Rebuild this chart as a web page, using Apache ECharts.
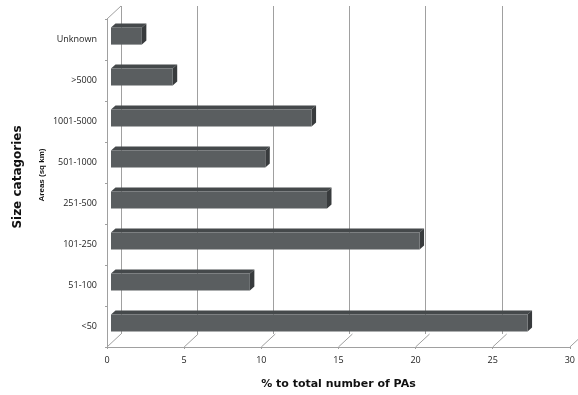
<!DOCTYPE html>
<html>
<head>
<meta charset="utf-8">
<script src="https://cdn.jsdelivr.net/npm/echarts@6/dist/echarts.min.js"></script>
<style>
  html, body { margin: 0; padding: 0; background: #fff; }
  #chart { width: 578px; height: 395px; }
</style>
</head>
<body>
<div id="chart"></div>
<script>
// Size classes of protected areas (bottom to top) and their share of all PAs
const categories = ['<50', '51-100', '101-250', '251-500', '501-1000', '1001-5000', '>5000', 'Unknown'];
const shares = [27, 9, 20, 14, 10, 13, 4, 2];
const xTicks = [0, 5, 10, 15, 20, 25, 30];

// pseudo-3D depth of the plot box and of each bar
const WALL_DX = 14, WALL_DY = -13;
const BAR_SHIFT_X = 4, BAR_SHIFT_Y = -3.5;
const BAR_DX = 4.5, BAR_DY = -4;

const gridColor = '#a0a0a0';
const labelFont = 'Open Sans';
const titleFont = 'DejaVu Sans';

const chart = echarts.init(document.getElementById('chart'), null, { renderer: 'canvas' });

const option = {
  animation: false,
  backgroundColor: '#ffffff',
  grid: [
    { left: 107, top: 19, width: 464, height: 328 },
    { left: 107 + WALL_DX, top: 19 + WALL_DY, width: 464, height: 328 }
  ],
  xAxis: [
    {
      gridIndex: 0, type: 'value', min: 0, max: 30, interval: 5,
      axisLine: { show: true, lineStyle: { color: gridColor, width: 1 } },
      axisTick: { show: true, length: 2, lineStyle: { color: gridColor } },
      splitLine: { show: false },
      axisLabel: { margin: 9, fontSize: 9, color: '#222', fontFamily: labelFont },
      name: '% to total number of PAs',
      nameLocation: 'middle', nameGap: 32,
      nameTextStyle: { fontFamily: titleFont, fontWeight: 'bold', fontSize: 11, color: '#111' }
    },
    {
      gridIndex: 1, type: 'value', min: 0, max: 30, interval: 5,
      axisLine: { show: false }, axisTick: { show: false }, axisLabel: { show: false },
      splitLine: { show: true, lineStyle: { color: gridColor, width: 1 } }
    }
  ],
  yAxis: [
    {
      gridIndex: 0, type: 'category', data: categories,
      axisLine: { show: true, lineStyle: { color: gridColor, width: 1 } },
      axisTick: { show: true, length: 2, lineStyle: { color: gridColor } },
      axisLabel: { margin: 10, fontSize: 9, color: '#222', fontFamily: labelFont },
      splitLine: { show: false }
    },
    { gridIndex: 1, type: 'value', show: false, splitLine: { show: false } }
  ],
  graphic: [
    {
      type: 'text', x: 18, y: 177, rotation: Math.PI / 2,
      style: { text: 'Size catagories', font: 'bold 12px "DejaVu Sans"', fill: '#111', align: 'center', verticalAlign: 'middle' }
    },
    {
      type: 'text', x: 42, y: 175, rotation: Math.PI / 2,
      style: { text: 'Areas (sq km)', font: 'bold 8px "Liberation Sans"', fill: '#111', align: 'center', verticalAlign: 'middle' }
    }
  ],
  series: [
    {
      // floor edges running from each front tick back to the wall
      type: 'custom', xAxisIndex: 0, yAxisIndex: 0, silent: true, z: 1,
      data: xTicks.map(v => [v, 0]),
      renderItem: function (params, api) {
        const p = api.coord([api.value(0), 0]);
        const bottom = params.coordSys.y + params.coordSys.height;
        return {
          type: 'line',
          shape: { x1: p[0], y1: bottom, x2: p[0] + WALL_DX, y2: bottom + WALL_DY },
          style: { stroke: gridColor, lineWidth: 1 }
        };
      }
    },
    {
      // top edge of the left side wall
      type: 'custom', xAxisIndex: 0, yAxisIndex: 0, silent: true, z: 1,
      data: [[0, 0]],
      renderItem: function (params, api) {
        const cs = params.coordSys;
        return {
          type: 'line',
          shape: { x1: cs.x, y1: cs.y, x2: cs.x + WALL_DX, y2: cs.y + WALL_DY },
          style: { stroke: gridColor, lineWidth: 1 }
        };
      }
    },
    {
      // 3D bars: front face, top face and end face
      type: 'custom', xAxisIndex: 0, yAxisIndex: 0, z: 3,
      data: shares.map((v, i) => [v, i]),
      renderItem: function (params, api) {
        const val = api.value(0), cat = api.value(1);
        const start = api.coord([0, cat]);
        const end = api.coord([val, cat]);
        const band = api.size([0, 1])[1];
        const h = band * 0.42;
        const x0 = start[0] + BAR_SHIFT_X, x1 = end[0] + BAR_SHIFT_X;
        const yc = start[1] + BAR_SHIFT_Y;
        const yTop = yc - h / 2, yBot = yc + h / 2;
        return {
          type: 'group',
          children: [
            {
              type: 'polygon',
              shape: { points: [[x0, yTop], [x1, yTop], [x1 + BAR_DX, yTop + BAR_DY], [x0 + BAR_DX, yTop + BAR_DY]] },
              style: { fill: '#45494b' }
            },
            {
              type: 'polygon',
              shape: { points: [[x1, yTop], [x1 + BAR_DX, yTop + BAR_DY], [x1 + BAR_DX, yBot + BAR_DY], [x1, yBot]] },
              style: { fill: '#383b3d' }
            },
            {
              type: 'rect',
              shape: { x: x0, y: yTop, width: x1 - x0, height: h },
              style: { fill: '#5a5e60' }
            }
          ]
        };
      }
    }
  ]
};

chart.setOption(option);
</script>
</body>
</html>
